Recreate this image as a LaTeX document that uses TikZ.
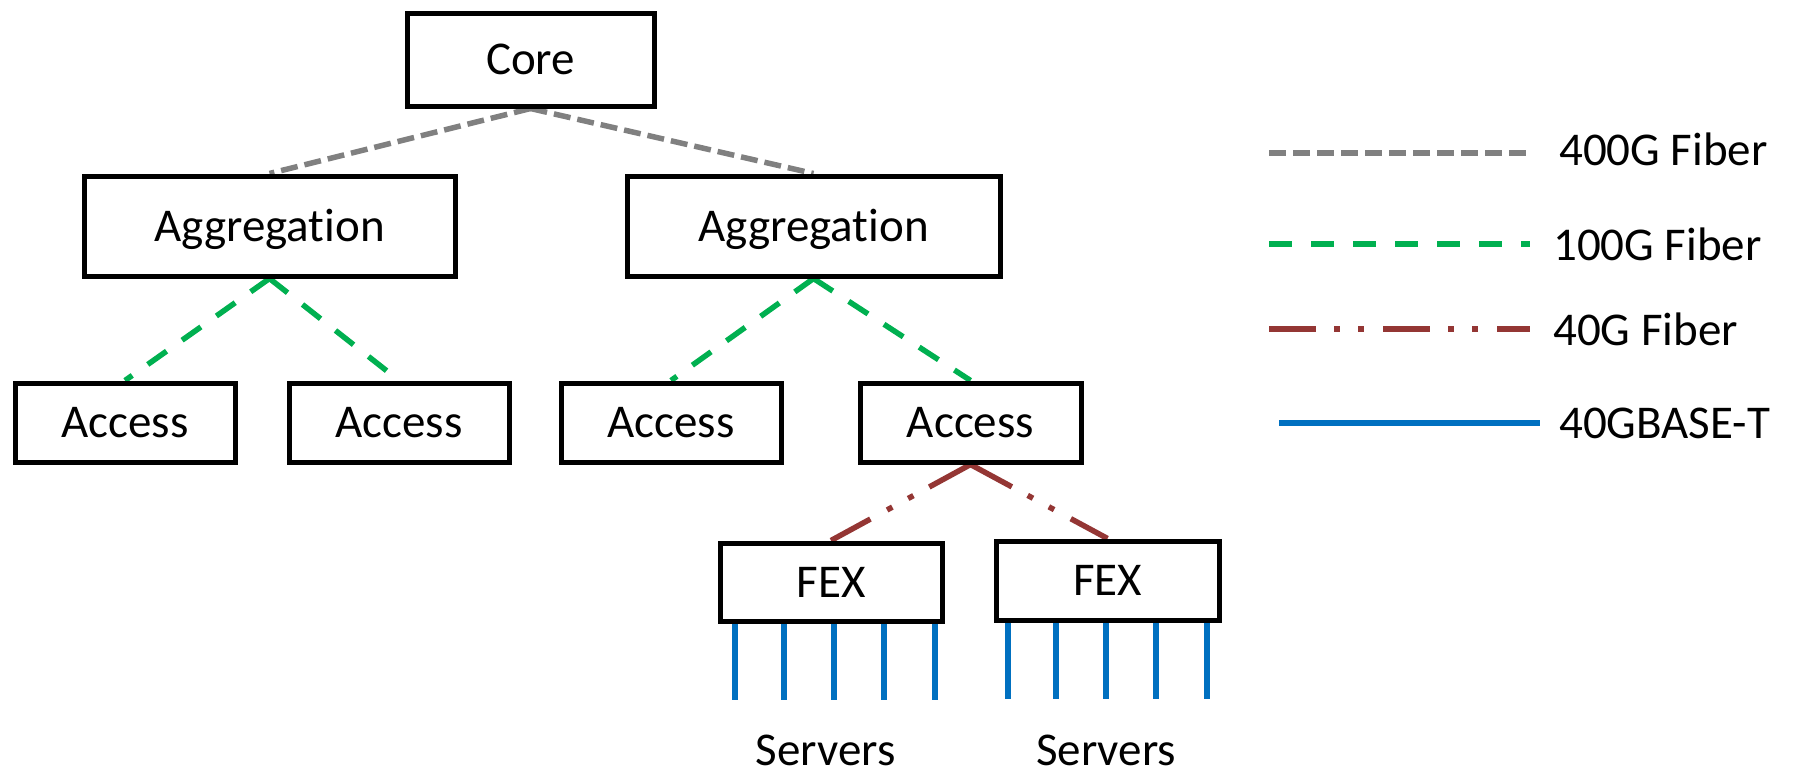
\documentclass[tikz,border=0pt]{standalone}
\usepackage{fontspec}
\setmainfont{Carlito}[Ligatures=NoCommon]
\usetikzlibrary{backgrounds}
\definecolor{cgray}{HTML}{808080}
\definecolor{cgreen}{HTML}{00B050}
\definecolor{cbrown}{HTML}{943634}
\definecolor{cblue}{HTML}{0070C0}
\tikzset{
  box/.style={draw=black, fill=white, line width=5pt, inner sep=0pt,
    font=\fontsize{47}{56}\selectfont, text height=30pt, text depth=0pt},
  lbl/.style={inner sep=0pt, font=\fontsize{47}{56}\selectfont},
  gline/.style={cgray, line width=5.5pt, dash pattern=on 17pt off 7pt},
  hline/.style={cgreen, line width=5.5pt, dash pattern=on 23pt off 19pt},
  bline/.style={cbrown, line width=5.5pt, dash pattern=on 47pt off 18pt on 6pt off 18pt on 6pt off 19pt},
  tline/.style={cblue, line width=6pt},
}
\begin{document}
\begin{tikzpicture}[x=1pt,y=-1pt]
\useasboundingbox (0,0) rectangle (1793,772);
% nodes
\node[box, minimum width=247pt, minimum height=93pt] (core) at (530.5,59.5) {Core};
\node[box, minimum width=371pt, minimum height=100pt] (agg1) at (269.5,226) {Aggregation};
\node[box, minimum width=373pt, minimum height=100pt] (agg2) at (813.5,226) {Aggregation};
\node[box, minimum width=220pt, minimum height=79pt] (acc1) at (125,422.5) {Access};
\node[box, minimum width=220pt, minimum height=79pt] (acc2) at (399,422.5) {Access};
\node[box, minimum width=220pt, minimum height=79pt] (acc3) at (671,422.5) {Access};
\node[box, minimum width=221pt, minimum height=79pt] (acc4) at (970.5,422.5) {Access};
\node[box, minimum width=222pt, minimum height=78pt] (fex1) at (831,582) {FEX};
\node[box, minimum width=223pt, minimum height=79pt] (fex2) at (1107.5,580.5) {FEX};
% connectors (behind boxes)
\begin{scope}[on background layer]
\draw[gline] (core.south) -- (agg1.north);
\draw[gline] (core.south) -- (agg2.north);
\draw[hline] (agg1.south) -- (acc1.north);
\draw[hline] (agg1.south) -- (acc2.north);
\draw[hline] (agg2.south) -- (acc3.north);
\draw[hline] (agg2.south) -- (acc4.north);
\draw[bline] (acc4.south) -- (fex1.north);
\draw[bline] (acc4.south) -- (fex2.north);
\foreach \s in {17,66,116,166,217}
  \draw[tline] ([xshift=\s pt, yshift=4pt]fex1.south west) -- ++(0,80);
\foreach \s in {14,62,112,162,213}
  \draw[tline] ([xshift=\s pt, yshift=4pt]fex2.south west) -- ++(0,80);
\end{scope}
% server labels
\node[lbl, anchor=base] (srv1) at (825.5,765) {Servers};
\node[lbl, anchor=base] (srv2) at (1106,765) {Servers};
% legend
\coordinate (l1a) at (1269,153); \coordinate (l1b) at (1527,153);
\coordinate (l2a) at (1269,244); \coordinate (l2b) at (1530,244);
\coordinate (l3a) at (1269,329); \coordinate (l3b) at (1530,329);
\coordinate (l4a) at (1279,423); \coordinate (l4b) at (1540,423);
\draw[gline] (l1a) -- (l1b);
\draw[hline] (l2a) -- (l2b);
\draw[bline] (l3a) -- (l3b);
\draw[tline] (l4a) -- (l4b);
\node[lbl, anchor=base west] (t1) at (1559,165) {400G Fiber};
\node[lbl, anchor=base west] (t2) at (1553,260) {100G Fiber};
\node[lbl, anchor=base west] (t3) at (1553,345) {40G Fiber};
\node[lbl, anchor=base west] (t4) at (1559,438) {40GBASE-T};
\end{tikzpicture}
\end{document}
